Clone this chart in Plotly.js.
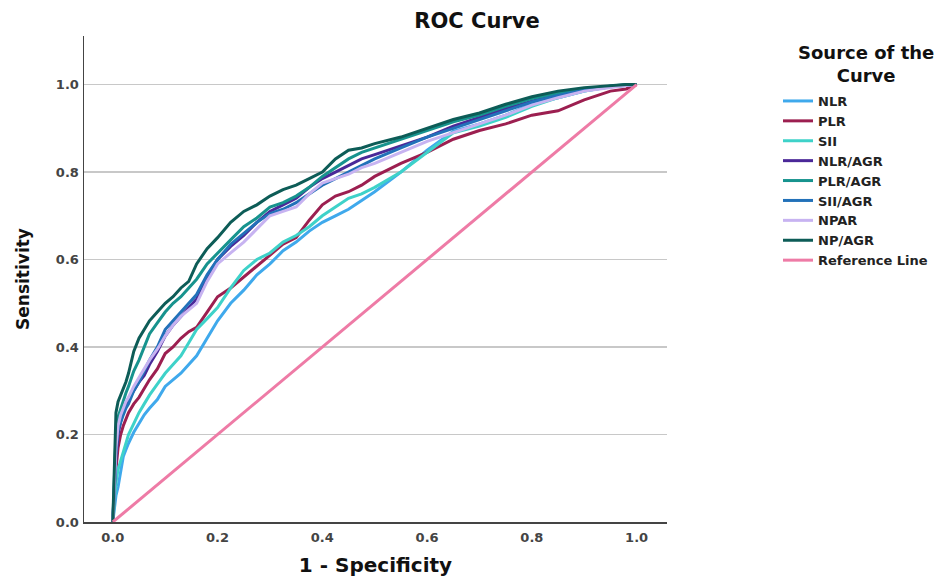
<!DOCTYPE html>
<html>
<head>
<meta charset="utf-8">
<script src="https://cdn.plot.ly/plotly-3.0.1.min.js"></script>
<style>html,body{margin:0;padding:0;background:#fff;}#chart{width:951px;height:579px;}</style>
</head>
<body>
<div id="chart"></div>
<script>
// 1 - Specificity sample points
const fpr = [0, 0.003, 0.006, 0.01, 0.015, 0.02, 0.025, 0.03, 0.04, 0.05, 0.06, 0.07, 0.085, 0.1, 0.115, 0.13, 0.145, 0.16, 0.18, 0.2, 0.225, 0.25, 0.275, 0.3, 0.325, 0.35, 0.375, 0.4, 0.425, 0.45, 0.475, 0.5, 0.55, 0.6, 0.65, 0.7, 0.75, 0.8, 0.85, 0.9, 0.95, 0.98, 1.0];

// Sensitivity per source
const NLR = [0,0.03,0.06,0.08,0.12,0.15,0.165,0.18,0.205,0.225,0.245,0.26,0.28,0.31,0.325,0.34,0.36,0.38,0.42,0.46,0.50,0.53,0.565,0.59,0.62,0.64,0.665,0.685,0.70,0.715,0.735,0.755,0.80,0.85,0.893,0.91,0.93,0.955,0.97,0.985,0.995,0.999,1];
const PLR = [0,0.06,0.12,0.17,0.2,0.22,0.235,0.25,0.27,0.285,0.305,0.325,0.35,0.385,0.40,0.42,0.435,0.445,0.48,0.515,0.535,0.56,0.585,0.61,0.635,0.65,0.69,0.725,0.745,0.755,0.77,0.79,0.82,0.845,0.875,0.895,0.91,0.93,0.94,0.965,0.985,0.99,1];
const SII = [0,0.05,0.09,0.12,0.14,0.16,0.18,0.2,0.225,0.25,0.27,0.29,0.315,0.34,0.36,0.38,0.41,0.44,0.465,0.49,0.535,0.575,0.60,0.615,0.64,0.655,0.675,0.70,0.72,0.74,0.75,0.765,0.80,0.845,0.89,0.905,0.925,0.95,0.97,0.985,0.995,0.999,1];
const NLR_AGR = [0,0.08,0.15,0.2,0.23,0.25,0.265,0.28,0.30,0.32,0.335,0.36,0.39,0.425,0.45,0.47,0.49,0.51,0.56,0.60,0.63,0.655,0.685,0.71,0.725,0.74,0.765,0.785,0.80,0.815,0.83,0.84,0.86,0.88,0.905,0.925,0.945,0.962,0.977,0.988,0.996,0.999,1];
const PLR_AGR = [0,0.1,0.2,0.24,0.26,0.28,0.295,0.31,0.345,0.37,0.40,0.43,0.455,0.48,0.50,0.515,0.535,0.555,0.59,0.615,0.645,0.675,0.695,0.72,0.73,0.745,0.765,0.79,0.81,0.83,0.845,0.855,0.875,0.895,0.915,0.93,0.95,0.968,0.98,0.99,0.997,1,1];
const SII_AGR = [0,0.09,0.16,0.21,0.23,0.245,0.26,0.27,0.30,0.32,0.345,0.37,0.40,0.44,0.46,0.48,0.50,0.52,0.565,0.60,0.635,0.66,0.685,0.705,0.715,0.73,0.75,0.77,0.785,0.80,0.815,0.83,0.855,0.88,0.90,0.92,0.94,0.96,0.975,0.987,0.995,0.999,1];
const NPAR = [0,0.1,0.17,0.22,0.245,0.26,0.275,0.285,0.31,0.33,0.35,0.37,0.395,0.425,0.45,0.47,0.485,0.50,0.55,0.59,0.615,0.64,0.67,0.70,0.71,0.72,0.75,0.775,0.785,0.795,0.81,0.82,0.845,0.87,0.89,0.91,0.93,0.953,0.97,0.985,0.994,0.998,1];
const NP_AGR = [0,0.15,0.25,0.275,0.29,0.305,0.32,0.34,0.39,0.42,0.44,0.46,0.48,0.50,0.515,0.535,0.55,0.59,0.625,0.65,0.685,0.71,0.725,0.745,0.76,0.77,0.785,0.80,0.83,0.85,0.855,0.865,0.88,0.90,0.92,0.935,0.955,0.972,0.985,0.993,0.998,1,1];
const refX = [0, 1];
const refY = [0, 1];

const names = ["NLR", "PLR", "SII", "NLR/AGR", "PLR/AGR", "SII/AGR", "NPAR", "NP/AGR", "Reference Line"];
const seriesY = [NLR, PLR, SII, NLR_AGR, PLR_AGR, SII_AGR, NPAR, NP_AGR, refY];
const colors = ["#3fa9ec", "#9c1f50", "#3ed2c9", "#4a2898", "#17938e", "#2271b9", "#c7b3f1", "#0d5c57", "#ee7ba6"];
const tickVals = [0, 0.2, 0.4, 0.6, 0.8, 1.0];
const tickText = ["0.0", "0.2", "0.4", "0.6", "0.8", "1.0"];

const traces = names.map((n, i) => ({
  type: "scatter",
  mode: "lines",
  name: n,
  x: i === 8 ? refX : fpr,
  y: seriesY[i],
  line: {color: colors[i], width: 3},
  hoverinfo: "skip"
}));

const F = "DejaVu Sans";
const layout = {
  width: 951,
  height: 579,
  paper_bgcolor: "#ffffff",
  plot_bgcolor: "#ffffff",
  margin: {l: 84, r: 284, t: 36, b: 57},
  title: {text: "<b>ROC Curve</b>", x: 477 / 951, xref: "container", xanchor: "center", y: 1 - 21 / 579, yanchor: "middle",
          font: {family: F, size: 21, color: "#111"}},
  font: {family: F, color: "#222"},
  xaxis: {
    range: [-0.055, 1.058],
    tickvals: tickVals,
    ticktext: tickText,
    showgrid: false, zeroline: false,
    showline: true, linecolor: "#444", linewidth: 1.5,
    ticks: "outside", ticklen: 3, tickcolor: "rgba(0,0,0,0)",
    tickfont: {family: F, size: 13, color: "#444", weight: "bold"},
    title: {text: "<b>1 - Specificity</b>", font: {family: F, size: 20, color: "#111"}, standoff: 14}
  },
  yaxis: {
    range: [0, 1.111],
    tickvals: tickVals,
    ticktext: tickText,
    showgrid: true, gridcolor: "#c8c8c8", gridwidth: 1.5,
    zeroline: false,
    showline: true, linecolor: "#444", linewidth: 1.5,
    ticks: "outside", ticklen: 1, tickcolor: "rgba(0,0,0,0)",
    tickfont: {family: F, size: 13, color: "#444", weight: "bold"},
    title: {text: "<b>Sensitivity</b>", font: {family: F, size: 17, color: "#111"}, standoff: 22}
  },
  showlegend: true,
  legend: {
    x: (778 - 84) / 583, xanchor: "left", y: (522 - 86) / 486, yanchor: "top",
    font: {family: F, size: 13, color: "#222", weight: "bold"},
    bgcolor: "rgba(0,0,0,0)", tracegroupgap: 0, itemwidth: 30
  },
  annotations: [
    {text: "<b>Source of the<br>Curve</b>", xref: "paper", yref: "paper",
     x: (866 - 84) / 583, y: (522 - 64) / 486, xanchor: "center", yanchor: "middle",
     showarrow: false, align: "center", font: {family: F, size: 18, color: "#111"}}
  ]
};

Plotly.newPlot("chart", traces, layout, {displayModeBar: false, staticPlot: true});
</script>
</body>
</html>
